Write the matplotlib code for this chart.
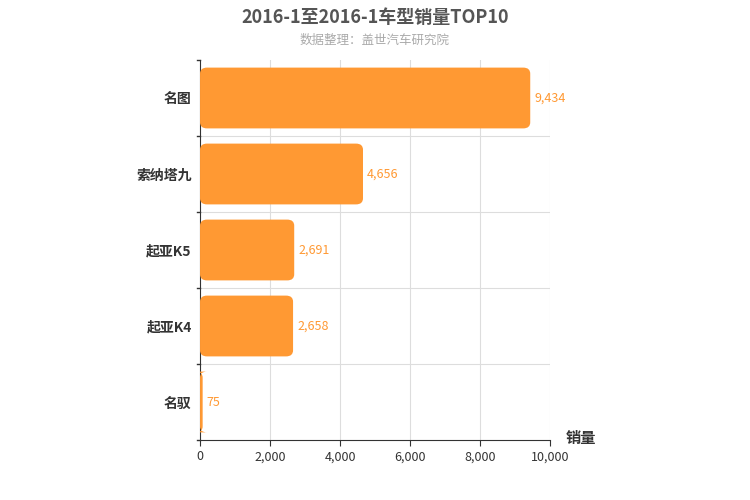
import matplotlib
matplotlib.use("Agg")
import matplotlib.pyplot as plt
from matplotlib.patches import FancyBboxPatch

plt.rcParams["font.family"] = ["Noto Sans CJK SC", "DejaVu Sans"]

# 数据
models = ["名图", "索纳塔九", "起亚K5", "起亚K4", "名驭"]
sales = [9434, 4656, 2691, 2658, 75]
xticks = [0, 2000, 4000, 6000, 8000, 10000]

BAR_COLOR = "#ff9933"

fig = plt.figure(figsize=(7.5, 5), dpi=100)
ax = fig.add_axes([0.2667, 0.12, 0.4667, 0.76])

n = len(models)
ax.set_xlim(0, 10000)
ax.set_ylim(n - 0.5, -0.5)

for i, v in enumerate(sales):
    y0 = i - 0.4
    patch = FancyBboxPatch((0, y0), v, 0.8,
                           boxstyle="round,pad=0,rounding_size=0.08",
                           mutation_aspect=1 / 2000 * 1.0 if False else 1,
                           facecolor=BAR_COLOR, edgecolor="none", zorder=3)
    # скругление в координатах данных: ось x намного длиннее
    patch.set_boxstyle("round,pad=0,rounding_size=200")
    patch.set_mutation_aspect(0.08 / 200)
    ax.add_patch(patch)
    ax.text(v + 120, i, f"{v:,}", va="center", ha="left",
            color=BAR_COLOR, fontsize=9, zorder=4)

ax.set_xticks(xticks)
ax.set_xticklabels([f"{t:,}" for t in xticks], fontsize=9, color="#333333")
ax.set_yticks(range(n))
ax.set_yticklabels(models, fontsize=10, fontweight="bold", color="#333333")
ax.tick_params(axis="y", length=0, pad=6)
ax.tick_params(axis="x", length=4, color="#333333")

# сетка
for t in xticks[1:]:
    ax.axvline(t, color="#dddddd", lw=0.8, zorder=0)
for b in [k + 0.5 for k in range(n - 1)]:
    ax.axhline(b, color="#dddddd", lw=0.8, zorder=0)
for b in [k - 0.5 for k in range(n + 1)]:
    ax.plot([-80, 0], [b, b], color="#333333", lw=1, clip_on=False)

for s in ["top", "right"]:
    ax.spines[s].set_visible(False)
ax.spines["left"].set_color("#333333")
ax.spines["bottom"].set_color("#333333")

fig.text(0.5, 0.965, "2016-1至2016-1车型销量TOP10", ha="center", va="center",
         fontsize=13, fontweight="bold", color="#555555")
fig.text(0.5, 0.92, "数据整理：盖世汽车研究院", ha="center", va="center",
         fontsize=9, color="#aaaaaa")
fig.text(0.775, 0.125, "销量", ha="center", va="center",
         fontsize=11, fontweight="bold", color="#333333")

fig.savefig("out.png", dpi=100)
